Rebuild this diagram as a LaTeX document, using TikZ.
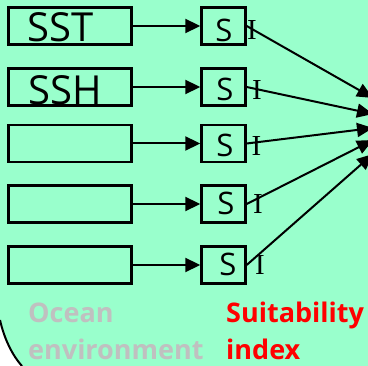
\documentclass[tikz,border=0pt]{standalone}
\usepackage{fontspec}
\setmainfont{Open Sans}
\newfontfamily\serifI{Liberation Serif}
\usetikzlibrary{arrows.meta}
\definecolor{bg}{HTML}{99FFCC}
\definecolor{greytxt}{HTML}{C0C0C0}
\tikzset{
  inbox/.style={draw=black, line width=2.4pt, minimum width=123pt, minimum height=37pt, inner sep=0pt},
  sbox/.style={draw=black, line width=2.4pt, minimum width=44pt, minimum height=37pt, inner sep=0pt},
  big/.style={font=\fontsize{40}{40}\selectfont, inner sep=0pt, anchor=base},
  stxt/.style={font=\fontsize{31}{31}\selectfont, inner sep=0pt, anchor=base},
  itxt/.style={font=\serifI\fontsize{29}{29}\selectfont, inner sep=0pt, anchor=base},
  feed/.style={line width=2pt, -{Triangle[length=15pt,width=14pt]}},
  conv/.style={line width=2pt, -{Triangle[length=16pt,width=14pt]}},
  lab/.style={font=\bfseries\fontsize{27}{27}\selectfont, inner sep=0pt, anchor=base west},
}
\begin{document}
\begin{tikzpicture}[x=1pt,y=-1pt]
\useasboundingbox (0,0) rectangle (368,366);
\fill[bg] (0,0) rectangle (368,366);
\fill[white] (0,320) .. controls (4,338) and (12,355) .. (22,366) -- (0,366) -- cycle;
\draw[line width=2pt] (0,320) .. controls (4,338) and (12,355) .. (22,366);
% input boxes
\node[inbox] (b1) at (70,26) {};
\node[inbox] (b2) at (70,87) {};
\node[inbox] (b3) at (70,143.5) {};
\node[inbox] (b4) at (70,204) {};
\node[inbox] (b5) at (70,265) {};
\node[big] (t1) at (60.5,42) {SST};
\node[big] (t2) at (65.5,105) {SSH};
% S boxes
\node[sbox] (s1) at (223.5,26) {};
\node[sbox] (s2) at (223.5,87) {};
\node[sbox] (s3) at (223.5,143.5) {};
\node[sbox] (s4) at (223.5,204) {};
\node[sbox] (s5) at (223.5,265) {};
\node[stxt] (l1) at (224,42) {S};
\node[stxt] (l2) at (225,101) {S};
\node[stxt] (l3) at (225,157) {S};
\node[stxt] (l4) at (226,215) {S};
\node[stxt] (l5) at (228,276) {S};
\node[itxt] (i1) at (252,40) {I};
\node[itxt] (i2) at (257,100) {I};
\node[itxt] (i3) at (256.5,156) {I};
\node[itxt] (i4) at (258,214) {I};
\node[itxt] (i5) at (260,275) {I};
% feeds
\foreach \k in {1,...,5} \draw[feed] (b\k.east) -- (s\k.west);
% convergence
\coordinate (e1) at (373,98);
\coordinate (e2) at (373,114);
\coordinate (e3) at (373,128);
\coordinate (e4) at (373,140);
\coordinate (e5) at (373,154);
\foreach \k in {1,...,5} \draw[conv] (s\k.east) -- (e\k);
% labels
\node[lab, text=greytxt] (oc) at (28,323) {Ocean};
\node[lab, text=greytxt] (en) at (28,360) {environment};
\node[lab, text=red] (su) at (226,323) {Suitability};
\node[lab, text=red] (ix) at (226,360) {index};
\end{tikzpicture}
\end{document}
